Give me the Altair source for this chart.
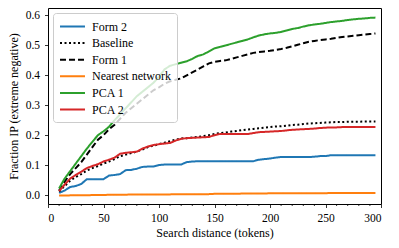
import altair as alt
import pandas as pd

xs = list(range(10, 300, 5))  # 10..295

series_names = ["Form 2", "Baseline", "Form 1", "Nearest network", "PCA 1", "PCA 2"]

form2 = [0.007, 0.015, 0.027, 0.030, 0.037, 0.053, 0.053, 0.053, 0.053, 0.065,
         0.067, 0.070, 0.083, 0.084, 0.088, 0.094, 0.095, 0.095, 0.100, 0.102,
         0.102, 0.102, 0.102, 0.110, 0.112, 0.113, 0.113, 0.113, 0.113, 0.113,
         0.113, 0.113, 0.113, 0.113, 0.113, 0.113, 0.118, 0.120, 0.122, 0.125,
         0.127, 0.127, 0.127, 0.127, 0.127, 0.127, 0.128, 0.130, 0.130, 0.133,
         0.133, 0.133, 0.133, 0.133, 0.133, 0.133, 0.133, 0.133]

baseline = [0.012, 0.030, 0.048, 0.060, 0.070, 0.082, 0.090, 0.097, 0.105, 0.112,
            0.120, 0.130, 0.135, 0.140, 0.145, 0.152, 0.160, 0.165, 0.170, 0.175,
            0.180, 0.185, 0.189, 0.190, 0.192, 0.194, 0.197, 0.200, 0.204, 0.207,
            0.209, 0.212, 0.214, 0.217, 0.219, 0.221, 0.223, 0.225, 0.227, 0.229,
            0.230, 0.232, 0.234, 0.235, 0.237, 0.239, 0.240, 0.241, 0.242, 0.243,
            0.244, 0.244, 0.245, 0.245, 0.245, 0.246, 0.246, 0.246]

form1 = [0.015, 0.045, 0.070, 0.090, 0.110, 0.135, 0.160, 0.185, 0.200, 0.220,
         0.235, 0.255, 0.275, 0.290, 0.305, 0.320, 0.335, 0.350, 0.360, 0.372,
         0.380, 0.385, 0.390, 0.400, 0.410, 0.420, 0.430, 0.440, 0.445, 0.448,
         0.450, 0.455, 0.460, 0.465, 0.470, 0.475, 0.478, 0.480, 0.482, 0.485,
         0.488, 0.492, 0.497, 0.502, 0.507, 0.512, 0.515, 0.518, 0.520, 0.522,
         0.525, 0.528, 0.530, 0.532, 0.534, 0.536, 0.538, 0.540]

nearest = [-0.002, -0.002, -0.001, -0.001, -0.001, -0.001, 0.000, 0.000, 0.000, 0.001,
           0.001, 0.001, 0.001, 0.002, 0.002, 0.002, 0.002, 0.002, 0.002, 0.002,
           0.002, 0.003, 0.003, 0.003, 0.003, 0.003, 0.003, 0.003, 0.004, 0.004,
           0.004, 0.004, 0.004, 0.005, 0.005, 0.005, 0.005, 0.005, 0.006, 0.006,
           0.006, 0.006, 0.006, 0.006, 0.006, 0.006, 0.006, 0.006, 0.006, 0.007,
           0.007, 0.007, 0.007, 0.007, 0.007, 0.007, 0.007, 0.007]

pca1 = [0.022, 0.055, 0.080, 0.105, 0.130, 0.155, 0.178, 0.200, 0.213, 0.228,
        0.250, 0.270, 0.290, 0.310, 0.330, 0.345, 0.360, 0.375, 0.395, 0.420,
        0.432, 0.437, 0.442, 0.447, 0.455, 0.465, 0.470, 0.480, 0.490, 0.495,
        0.500, 0.505, 0.510, 0.515, 0.520, 0.527, 0.533, 0.537, 0.540, 0.542,
        0.545, 0.550, 0.555, 0.558, 0.563, 0.567, 0.570, 0.572, 0.575, 0.578,
        0.580, 0.582, 0.585, 0.587, 0.589, 0.590, 0.592, 0.593]

pca2 = [0.013, 0.035, 0.055, 0.067, 0.078, 0.090, 0.097, 0.103, 0.112, 0.118,
        0.125, 0.138, 0.141, 0.143, 0.145, 0.155, 0.162, 0.167, 0.170, 0.172,
        0.174, 0.182, 0.188, 0.190, 0.191, 0.192, 0.193, 0.194, 0.200, 0.204,
        0.204, 0.204, 0.204, 0.204, 0.204, 0.207, 0.210, 0.211, 0.212, 0.213,
        0.214, 0.216, 0.218, 0.219, 0.220, 0.221, 0.222, 0.224, 0.225, 0.226,
        0.226, 0.227, 0.227, 0.227, 0.227, 0.227, 0.227, 0.227]

minor_ticks = [v for v in range(0, 301, 10) if v % 50 != 0]

colors = ["#1f77b4", "#000000", "#000000", "#ff7f0e", "#2ca02c", "#d62728"]
dashes = [[1, 0], [2, 2.5], [6, 3], [1, 0], [1, 0], [1, 0]]

rows = []
for name, vals in zip(series_names, [form2, baseline, form1, nearest, pca1, pca2]):
    for x, v in zip(xs, vals):
        rows.append({"x": x, "y": v, "series": name})
df = pd.DataFrame(rows)

FONT = "Liberation Serif"
W, H = 333, 196

xscale = alt.Scale(domain=[0, 300], nice=False, zero=False)
yscale = alt.Scale(domain=[-0.03, 0.625], nice=False, zero=False)

lines = alt.Chart(df).mark_line(strokeWidth=2).encode(
    x=alt.X("x:Q", scale=xscale, title="Search distance (tokens)",
            axis=alt.Axis(values=[0, 50, 100, 150, 200, 250, 300], format="d")),
    y=alt.Y("y:Q", scale=yscale, title="Fraction IP (extreme negative)",
            axis=alt.Axis(values=[0.0, 0.1, 0.2, 0.3, 0.4, 0.5, 0.6], format=".1f")),
    color=alt.Color("series:N", scale=alt.Scale(domain=series_names, range=colors),
                    title=None),
    strokeDash=alt.StrokeDash("series:N", scale=alt.Scale(domain=series_names, range=dashes),
                              title=None),
)

minor_df = pd.DataFrame({"x": minor_ticks})
minor = alt.Chart(minor_df).mark_rule(color="black", strokeWidth=0.8).encode(
    x=alt.X("x:Q", scale=xscale),
    y=alt.value(H),
    y2=alt.value(H + 2),
)

chart = alt.layer(lines, minor).properties(
    width=W, height=H,
    padding={"left": 40, "top": 0, "right": 10, "bottom": 40},
    autosize=alt.AutoSizeParams(type="none"),
).configure(
    font=FONT
).configure_view(
    stroke="black", strokeWidth=1
).configure_axis(
    grid=False, domain=False, tickColor="black", tickSize=3.5, tickWidth=0.8,
    labelFont=FONT, labelFontSize=11.5, labelColor="black",
    titleFont=FONT, titleFontSize=12, titleFontWeight="normal", titleColor="black",
).configure_axisY(titlePadding=5, labelPadding=5).configure_axisX(titlePadding=3, labelPadding=5
).configure_legend(
    orient="top-left", offset=5, symbolType="M-2,0H2",
    symbolSize=156, symbolStrokeWidth=2, symbolFillColor="transparent",
    labelFont=FONT, labelFontSize=12, labelColor="black",
    rowPadding=2.6, labelOffset=12, padding=6,
    fillColor="rgba(255,255,255,0.8)", strokeColor="#cccccc", cornerRadius=3,
    labelLimit=200, symbolOffset=6,
)

chart.save("out.html", embed_options={"renderer": "svg", "actions": False})
